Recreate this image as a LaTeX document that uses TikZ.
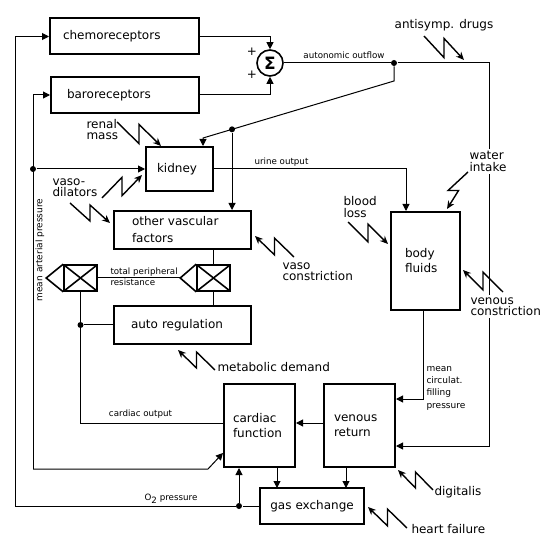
\documentclass[tikz,border=0pt]{standalone}
\usepackage{fontspec}
\setmainfont{DejaVu Sans}
\usetikzlibrary{arrows.meta,calc}

\newcommand\boxfont{\fontsize{12}{15}\selectfont}
\newcommand\tagfont{\fontsize{12}{11.5}\selectfont}
\newcommand\smallfont{\fontsize{8.7}{10.5}\selectfont}

\begin{document}
\begin{tikzpicture}[x=1pt,y=-1pt,line width=1pt,>={Triangle[length=7pt,width=7pt]}]
\useasboundingbox (0,0) rectangle (560,556);
\tikzstyle{blk}=[draw, line width=2pt, align=left, inner ysep=0pt, font=\boxfont]
\tikzstyle{mult}=[draw, line width=1.6pt, minimum width=33pt, minimum height=26pt, inner sep=0pt,
  path picture={\draw[line width=1.6pt] (path picture bounding box.north west) -- (path picture bounding box.south east)
    (path picture bounding box.south west) -- (path picture bounding box.north east);}]
\tikzstyle{tri}=[line width=1.6pt]
\tikzstyle{dot}=[circle, fill, inner sep=0pt, minimum size=6pt]
\tikzstyle{lbl}=[font=\smallfont, inner sep=0pt]
\tikzstyle{tag}=[font=\tagfont, align=left, inner sep=0pt, anchor=west]
\tikzstyle{zap}=[line width=1.4pt, -{Stealth[length=8pt,width=7pt]},
  to path={let \p1=(\tikztostart), \p2=(\tikztotarget) in
    -- ({0.5*\x1+0.5*\x2},{0.9*\y2+0.1*\y1}) -- ({0.5*\x1+0.5*\x2},{0.1*\y2+0.9*\y1}) -- (\tikztotarget)}]
\tikzstyle{zaph}=[line width=1.4pt, -{Stealth[length=8pt,width=7pt]},
  to path={let \p1=(\tikztostart), \p2=(\tikztotarget) in
    -- ({0.95*\x2+0.05*\x1},{0.5*\y1+0.5*\y2}) -- ({0.45*\x2+0.55*\x1},{0.5*\y1+0.5*\y2}) -- (\tikztotarget)}]

% blocks
\node[blk, text width=123pt, inner xsep=13pt, minimum height=36pt] (chemo) at (124.5,36.5) {chemoreceptors};
\node[blk, text width=116pt, inner xsep=16pt, minimum height=36pt] (baro) at (125,95) {baroreceptors};
\node[blk, text width=45pt, inner xsep=11pt, minimum height=44pt] (kidney) at (179.5,169) {kidney};
\node[blk, text width=101pt, inner xsep=18pt, minimum height=38pt] (ovf) at (182.5,230) {other vascular\\[2pt]factors};
\node[blk, text width=103pt, inner xsep=17pt, minimum height=38pt] (autoreg) at (182.5,325) {auto regulation};
\node[blk, text width=41pt, inner xsep=14pt, minimum height=98pt] (bodyfl) at (425.5,261) {body\\fluids};
\node[blk, text width=53pt, inner xsep=9pt, minimum height=83pt] (cardiac) at (259.5,425.5) {cardiac\\function};
\node[blk, text width=51pt, inner xsep=10pt, minimum height=83pt] (venous) at (359.5,425.5) {venous\\return};
\node[blk, align=center, text width=104pt, inner xsep=0pt, minimum height=36pt] (gasx) at (312,506) {gas exchange};

% summing point
\node[draw, circle, line width=1.6pt, minimum size=26pt, inner sep=0pt,
  font=\bfseries\fontsize{17}{17}\selectfont] (sum) at (270,63) {Σ};
\node[font=\boxfont, inner sep=0pt] (plusA) at (252,52) {+};
\node[font=\boxfont, inner sep=0pt] (plusB) at (252,75) {+};
\draw[->] (chemo.east) -| (sum.north);
\draw[->] (baro.east) -| (sum.south);

% autonomic outflow
\node[dot] (ao) at (394,63) {};
\coordinate (aoCorner) at (489,63);
\draw[->] (sum.east) -- (ao) -- (aoCorner) |- ([yshift=-20.5pt]venous.east);
\node[lbl, anchor=south] (aoLbl) at (344,59) {autonomic outflow};
\coordinate (aoKnee) at (394,81);
\coordinate (kidKnee) at (203,138);
\draw[->] (ao) -- (aoKnee) -- (kidKnee) -- (kidKnee |- kidney.north);
\node[dot] (ovfDot) at ($(aoKnee)!0.848!(kidKnee)$) {};
\draw[->] (ovfDot) -- (ovfDot |- ovf.north);

% urine output
\coordinate (urCorner) at (406,169);
\draw[->] (kidney.east) -- (urCorner) -- (urCorner |- bodyfl.north);
\node[lbl] (urLbl) at (281.5,162.5) {urine output};

% mean circulatory filling pressure
\draw[->] ([xshift=-2.5pt]bodyfl.south) |- ([yshift=26.5pt]venous.east);
\node[font=\fontsize{9}{12.2}\selectfont, align=left, inner sep=0pt, anchor=north west] (mcfpLbl) at (426,366)
  {mean\\circulat.\\filling\\pressure};

% venous return to cardiac function and gas exchange
\draw[->] ([yshift=2.5pt]venous.west) -- ([yshift=2.5pt]cardiac.east);
\coordinate (c2g) at (277,488);
\coordinate (v2g) at (346,488);
\draw[->] (c2g |- cardiac.south) -- (c2g);
\draw[->] (v2g |- venous.south) -- (v2g);

% O2 pressure loop
\node[dot] (o2Dot) at (239,506) {};
\coordinate (o2Corner) at (15,506);
\draw[->] (gasx.west) -- (o2Dot) -- (o2Corner) |- (chemo.west);
\draw[->] (o2Dot) -- (o2Dot |- cardiac.south);
\node[lbl] (o2Lbl) at (171,499) {O\raisebox{-2.5pt}{2} pressure};

% mean arterial pressure loop
\coordinate (mapBot) at (33,469);
\coordinate (mapKnee) at (208,469);
\draw[->] (mapBot) |- (baro.west);
\draw[->] (mapBot) -- (mapKnee) -- ([yshift=-27.5pt]cardiac.west);
\node[dot] (mapDot) at (33,169) {};
\draw[->] (mapDot) -- (kidney.west);
\node[font=\fontsize{9}{10}\selectfont, inner sep=0pt, rotate=90] (mapLbl) at (40,250) {mean arterial pressure};

% multipliers
\node[mult] (mulL) at (80.5,278) {};
\node[mult] (mulR) at (213.5,278) {};
\draw[tri] (mulL.north west) -- ([xshift=-17pt]mulL.west) -- (mulL.south west);
\draw[tri] (mulR.north west) -- ([xshift=-16pt]mulR.west) -- (mulR.south west);
\draw (mulL.east) -- ([xshift=-16pt]mulR.west);
\node[lbl, align=left, anchor=west] (tprLbl) at (110,277) {total peripheral\\resistance};
\draw (mulR.north) -- (mulR.north |- ovf.south);
\draw (mulR.south) -- (mulR.south |- autoreg.north);
\node[dot] (arDot) at (80.5,325) {};
\coordinate (coCorner) at (80.5,423);
\draw (mulL.south) -- (coCorner) -- (coCorner -| cardiac.west);
\draw (arDot) -- (autoreg.west);
\node[lbl] (coLbl) at (140.5,414.5) {cardiac output};

% disturbances
\node[tag, anchor=center] (drugs) at (444,25) {antisymp. drugs};
\node[tag] (renal) at (86,129.5) {renal\\mass};
\node[tag] (dilators) at (52,187.5) {vaso-\\dilators};
\node[tag] (vcon) at (282,271.5) {vaso\\constriction};
\node[tag, fill=white, inner ysep=2pt] (water) at (469,161.5) {water\\intake};
\node[tag] (blood) at (343,207) {blood\\loss};
\node[tag, fill=white, inner ysep=2pt] (vencon) at (470,306.5) {venous\\constriction};
\node[tag] (metab) at (217,367) {metabolic demand};
\node[tag] (digit) at (434,492) {digitalis};
\node[tag] (hfail) at (411,529) {heart failure};

\path (424,36) coordinate (drugsA) (464,60) coordinate (drugsB);
\path (117,122) coordinate (renalA) (161,146) coordinate (renalB);
\path (102,198) coordinate (dilA) (142,175) coordinate (dilB);
\path (70,203) coordinate (dil2A) (110,223) coordinate (dil2B);
\path (294,257) coordinate (vconA) (255,236) coordinate (vconB);
\path (468,172) coordinate (waterA) (447,209) coordinate (waterB);
\path (348,222) coordinate (bloodA) (388,244) coordinate (bloodB);
\path (503,292) coordinate (venconA) (463,270) coordinate (venconB);
\path (215,370) coordinate (metabA) (178,350) coordinate (metabB);
\path (433,490) coordinate (digitA) (398,470) coordinate (digitB);
\path (407,528) coordinate (hfailA) (368,507) coordinate (hfailB);
\draw[zap] (drugsA) to (drugsB);
\draw[zap] (renalA) to (renalB);
\draw[zap] (dilA) to (dilB);
\draw[zap] (dil2A) to (dil2B);
\draw[zap] (vconA) to (vconB);
\draw[zaph] (waterA) to (waterB);
\draw[zap] (bloodA) to (bloodB);
\draw[zap] (venconA) to (venconB);
\draw[zap] (metabA) to (metabB);
\draw[zap] (digitA) to (digitB);
\draw[zap] (hfailA) to (hfailB);
\end{tikzpicture}
\end{document}
